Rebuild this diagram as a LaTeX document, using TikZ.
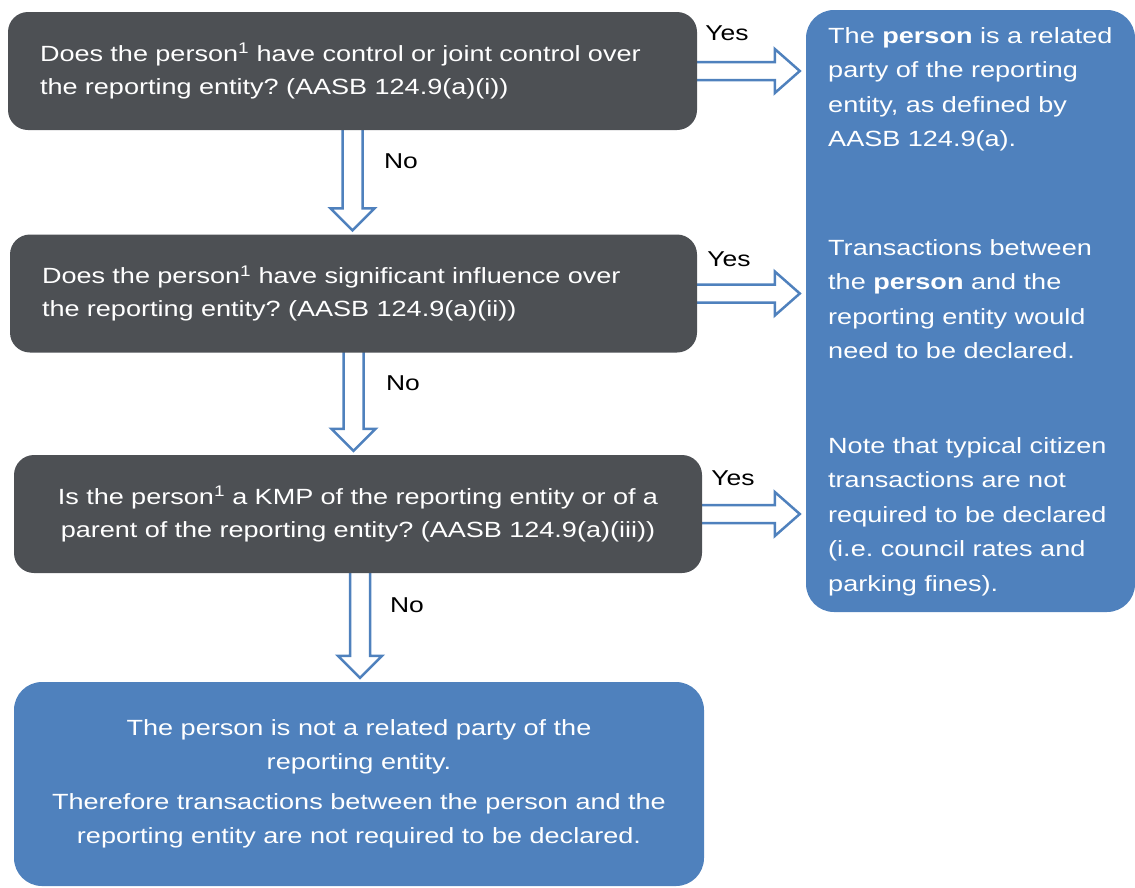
\documentclass[tikz,border=0pt]{standalone}
\usepackage{fontspec}
\setmainfont[FakeStretch=1.23]{Liberation Sans}
\usepackage{tikz}
\usetikzlibrary{positioning}
\usetikzlibrary{calc}
\usetikzlibrary{backgrounds}
\definecolor{boxgray}{RGB}{77,80,84}
\definecolor{boxblue}{RGB}{79,129,189}
\frenchspacing
\tikzset{
	question/.style={fill=boxgray, rounded corners=20pt, text=white, inner xsep=32pt, minimum height=118pt, font=\fontsize{22}{33}\selectfont},
	outcome/.style={fill=boxblue, rounded corners=28pt, text=white},
	note/.style={anchor=north west, inner sep=0pt, align=left, text=white, font=\fontsize{22}{34.5}\selectfont},
	yesno/.style={font=\fontsize{21.5}{26}\selectfont},
	downarrow/.style={draw=boxblue, line width=2.5pt, fill=white,
		to path={($(\tikztostart)+(-10,3)$) -- ($(\tikztotarget)+(-10,26)$) -- ($(\tikztotarget)+(-22,26)$) -- ($(\tikztotarget)+(0,4)$) -- ($(\tikztotarget)+(22,26)$) -- ($(\tikztotarget)+(10,26)$) -- ($(\tikztostart)+(10,3)$) -- cycle}},
	rightarrow/.style={draw=boxblue, line width=2.5pt, fill=white,
		to path={($(\tikztostart)+(-3,-9)$) -- ($(\tikztotarget)+(-31,-9)$) -- ($(\tikztotarget)+(-31,-22)$) -- ($(\tikztotarget)+(-6,0)$) -- ($(\tikztotarget)+(-31,22)$) -- ($(\tikztotarget)+(-31,9)$) -- ($(\tikztostart)+(-3,9)$) -- cycle}}
}

\begin{document}
\begin{tikzpicture}[x=1pt, y=1pt]
	\useasboundingbox (0,0) rectangle (1135,-887);

	% questions
	\node[question, text width=625pt, align=left] (q1) at (352.5,-71) {Does the person\textsuperscript{1} have control or joint control over\\the reporting entity? (AASB 124.9(a)(i))};
	\node[question, text width=623pt, align=left] (q2) at (353.5,-293.5) {Does the person\textsuperscript{1} have significant influence over\\the reporting entity? (AASB 124.9(a)(ii))};
	\node[question, text width=624pt, align=center] (q3) at (358,-514) {Is the person\textsuperscript{1} a KMP of the reporting entity or of a\\parent of the reporting entity? (AASB 124.9(a)(iii))};

	% not related
	\node[outcome, minimum width=690pt, minimum height=204pt, align=center, font=\fontsize{22}{34}\selectfont] (out) at (359,-784) {The person is not a related party of the\\reporting entity.\\[6pt]Therefore transactions between the person and the\\reporting entity are not required to be declared.};

	% related
	\node[outcome, minimum width=329pt, minimum height=602pt] (rbox) at (970.5,-311) {};
	\node[note] (r1) at (828,-27) {The \textbf{person} is a related\\party of the reporting\\entity, as defined by\\AASB 124.9(a).};
	\node[note] (r2) at (828,-239) {Transactions between\\the \textbf{person} and the\\reporting entity would\\need to be declared.};
	\node[note] (r3) at (828,-437) {Note that typical citizen\\transactions are not\\required to be declared\\(i.e. council rates and\\parking fines).};

	% arrows
	\begin{scope}[on background layer]
		\draw[downarrow] (q1.south) to (q1.south |- q2.north);
		\draw[downarrow] (q2.south) to (q2.south |- q3.north);
		\draw[downarrow] ([xshift=2pt]q3.south) to ([xshift=2pt]q3.south |- out.north);
		\draw[rightarrow] (q1.east) to (q1.east -| rbox.west);
		\draw[rightarrow] (q2.east) to (q2.east -| rbox.west);
		\draw[rightarrow] (q3.east) to (q3.east -| rbox.west);
	\end{scope}

	\node[yesno] (yes1) at (727,-33) {Yes};
	\node[yesno] (yes2) at (729,-259) {Yes};
	\node[yesno] (yes3) at (733,-478) {Yes};
	\node[yesno] (no1) at (401,-161) {No};
	\node[yesno] (no2) at (403,-383) {No};
	\node[yesno] (no3) at (407,-605) {No};
\end{tikzpicture}
\end{document}
